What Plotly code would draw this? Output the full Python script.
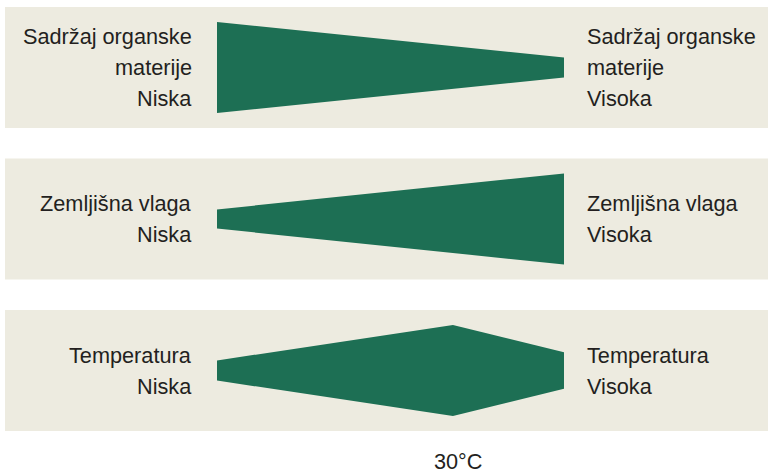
import plotly.graph_objects as go

# ---- data ----
factors = ["Sadržaj organske materije", "Zemljišna vlaga", "Temperatura"]
left_labels = [["Sadržaj organske", "materije", "Niska"],
               ["Zemljišna vlaga", "Niska"],
               ["Temperatura", "Niska"]]
right_labels = [["Sadržaj organske", "materije", "Visoka"],
                ["Zemljišna vlaga", "Visoka"],
                ["Temperatura", "Visoka"]]
# relative position along gradient (0 = low, 1 = high)
organic_pos = [0.0, 1.0]
organic_width = [1.0, 0.22]
moisture_pos = [0.0, 1.0]
moisture_width = [0.21, 1.0]
temp_pos = [0.0, 0.68, 1.0]
temp_width = [0.22, 1.0, 0.40]
peak_label = "30°C"

positions = [organic_pos, moisture_pos, temp_pos]
widths = [organic_width, moisture_width, temp_width]

# ---- styling / layout ----
W, H = 769, 470
GREEN = "#1d6f54"
BEIGE = "#edebe0"
TEXT = "#231f20"
FONT = "Liberation Sans, Arial, Helvetica, sans-serif"
FS = 21.7

px_per_t = 347.0          # pixels per unit gradient
x0_px = 217.0             # pixel of t = 0
px_per_row = 151.5        # pixels between band centres
row0_px = 67.5            # pixel of first band centre
max_half = 45.5 / px_per_row   # half thickness of widest wedge (rows)
band_half = 60.5 / px_per_row

xr = [(0 - x0_px) / px_per_t, (W - x0_px) / px_per_t]
yr = [(H - row0_px) / px_per_row, (0 - row0_px) / px_per_row]

fig = go.Figure()

for i, (pos, wid) in enumerate(zip(positions, widths)):
    top = [i - w * max_half for w in wid]
    bot = [i + w * max_half for w in wid]
    xs = list(pos) + list(reversed(pos)) + [pos[0]]
    ys = top + list(reversed(bot)) + [top[0]]
    fig.add_trace(go.Scatter(x=xs, y=ys, fill="toself", fillcolor=GREEN,
                             mode="lines", line=dict(width=0, color=GREEN),
                             hoverinfo="skip", showlegend=False, name=factors[i]))
    fig.add_shape(type="rect", xref="paper", yref="y", x0=5 / W, x1=768 / W,
                  y0=i - band_half, y1=i + band_half, fillcolor=BEIGE,
                  line=dict(width=0), layer="below")
    for side, labels in (("left", left_labels[i]), ("right", right_labels[i])):
        n = len(labels)
        for j, txt in enumerate(labels):
            off = (j - (n - 1) / 2) * 31
            fig.add_annotation(x=pos[0] if side == "left" else pos[-1], y=i,
                               xref="x", yref="y", text=txt, showarrow=False,
                               xanchor="right" if side == "left" else "left",
                               yanchor="middle",
                               xshift=-23 if side == "left" else 21,
                               yshift=-off,
                               font=dict(size=FS, color=TEXT, family=FONT))

# peak label
fig.add_annotation(x=temp_pos[1], y=2 + 91 / px_per_row, xref="x", yref="y",
                   text=peak_label, showarrow=False, xanchor="center",
                   yanchor="middle", xshift=5, borderpad=0,
                   font=dict(size=FS, color=TEXT, family=FONT))

fig.update_layout(width=W, height=H, margin=dict(l=0, r=0, t=0, b=0),
                  paper_bgcolor="white", plot_bgcolor="white",
                  xaxis=dict(range=xr, visible=False, fixedrange=True),
                  yaxis=dict(range=yr, visible=False, fixedrange=True),
                  showlegend=False)

fig.write_html("out.html", config={"displayModeBar": False},
               post_script="document.body.style.margin='0';"
                           "document.body.style.overflow='hidden';")
